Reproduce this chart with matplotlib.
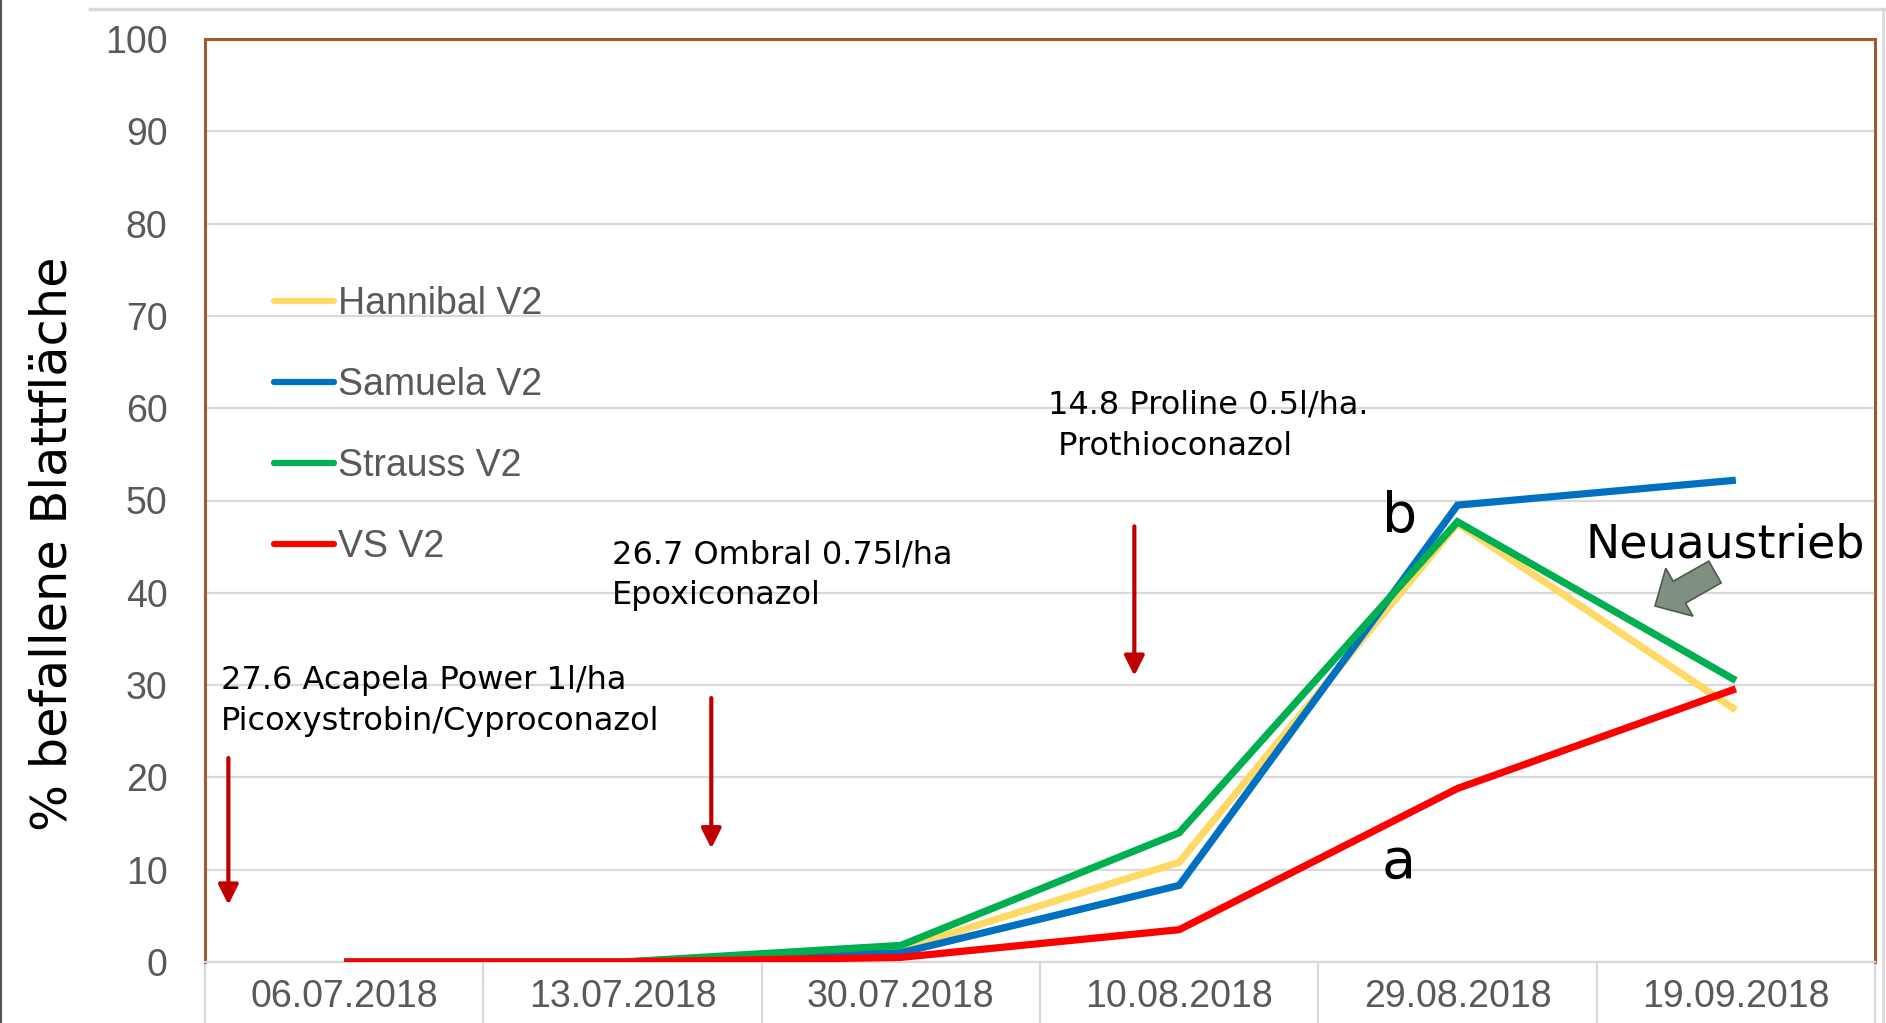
import numpy as np
import matplotlib
matplotlib.use('Agg')
import matplotlib.pyplot as plt
from matplotlib.lines import Line2D
from matplotlib.patches import FancyArrow
import matplotlib.transforms as mtransforms

# data
dates = ['06.07.2018', '13.07.2018', '30.07.2018', '10.08.2018', '29.08.2018', '19.09.2018']
hannibal = [0, 0, 1.4, 10.8, 47.5, 27.3]
samuela = [0, 0, 1.0, 8.3, 49.5, 52.2]
strauss = [0, 0, 1.8, 14.0, 47.7, 30.5]
vs = [0, 0, 0.5, 3.5, 18.8, 29.6]
series_names = ['Hannibal V2', 'Samuela V2', 'Strauss V2', 'VS V2']
series_colors = ['#ffd966', '#0070c0', '#00b050', '#ff0000']

W, H = 1886, 1023
fig = plt.figure(figsize=(W / 100, H / 100), dpi=100)
fig.patch.set_facecolor('white')

# plot area in pixels: left 205, right 1875, top 39, bottom 962
ax = fig.add_axes([205 / W, 1 - 962 / H, (1875 - 205) / W, (962 - 39) / H])

x = np.arange(len(dates))
grid_c = '#d9d9d9'
brown = '#a3592c'

for vals, name, col in zip([hannibal, samuela, strauss, vs], series_names, series_colors):
    ax.plot(x, vals, color=col, lw=5.2, label=name, solid_joinstyle='miter', solid_capstyle='butt', zorder=3)

ax.set_xlim(-0.5, len(dates) - 0.5)
ax.set_ylim(0, 100)
ax.set_yticks(np.arange(0, 101, 10))
ax.set_xticks(x)
ax.set_xticklabels(dates)
ax.grid(axis='y', color=grid_c, lw=1.6)
ax.set_axisbelow(True)
sans = ['Liberation Sans', 'DejaVu Sans']
tick_font = dict(family=sans, size=27, color='#595959')
for lab in ax.get_xticklabels() + ax.get_yticklabels():
    lab.set(**tick_font)
ax.tick_params(axis='both', length=0)
ax.tick_params(axis='x', pad=12)
ax.tick_params(axis='y', pad=27)

for s in ['left', 'top', 'right']:
    ax.spines[s].set_color(brown)
    ax.spines[s].set_linewidth(2.2)
ax.spines['bottom'].set_color(grid_c)
ax.spines['bottom'].set_linewidth(1.6)

# category separators below the axis
trans = mtransforms.blended_transform_factory(ax.transData, ax.transAxes)
for b in np.arange(-0.5, len(dates), 1.0):
    ax.plot([b, b], [0, -0.07], color=grid_c, lw=1.6, transform=trans, clip_on=False)

leg = ax.legend(loc='upper left', bbox_to_anchor=(274 / W, 1 - 286 / H), bbox_transform=fig.transFigure,
                frameon=False, borderpad=0, borderaxespad=0, handlelength=1.6, handletextpad=0.1,
                labelspacing=1.2, prop={'family': sans, 'size': 27})
for t in leg.get_texts():
    t.set_color('#595959')
for h in leg.get_lines():
    h.set_linewidth(4.5)
    h.set_solid_capstyle('round')

# treatment notes
note_font = dict(family=['DejaVu Sans'], size=23, color='black', linespacing=1.4)
ax.text(-0.443, 28.3, '27.6 Acapela Power 1l/ha\nPicoxystrobin/Cyproconazol', ha='left', va='center', **note_font)
ax.text(0.963, 41.9, '26.7 Ombral 0.75l/ha\nEpoxiconazol', ha='left', va='center', **note_font)
ax.text(2.530, 58.1, '14.8 Proline 0.5l/ha.\n Prothioconazol', ha='left', va='center', **note_font)

arrow_x = [-0.416, 1.319, 2.839]
arrow_top = [22.1, 28.6, 47.2]
arrow_bot = [6.2, 12.3, 31.0]
for ax_, yt, yb in zip(arrow_x, arrow_top, arrow_bot):
    ax.annotate('', xy=(ax_, yb), xytext=(ax_, yt),
                arrowprops=dict(arrowstyle='-|>,head_length=1.2,head_width=0.6', mutation_scale=10,
                                color='#c00000', lw=3, shrinkA=0, shrinkB=0))

ax.text(3.792, 48.2, 'b', ha='center', va='center', fontsize=40, family='DejaVu Sans')
ax.text(3.788, 10.8, 'a', ha='center', va='center', fontsize=40, family='DejaVu Sans')
ax.text(4.460, 45.2, 'Neuaustrieb', ha='left', va='center', fontsize=33, family='DejaVu Sans')

# block arrow pointing at the green/yellow decline
tail = (17.15, (H - 572) / 100)
tip = (16.55, (H - 606) / 100)
fig.patches.append(FancyArrow(tail[0], tail[1], tip[0] - tail[0], tip[1] - tail[1], width=0.25,
                              head_width=0.55, head_length=0.28, length_includes_head=True,
                              transform=fig.dpi_scale_trans, facecolor='#7f8f80', edgecolor='#4d5b4d', lw=1.2))

# y axis title
fig.text(53 / W, 1 - 544 / H, '% befallene Blattfläche', rotation=90, ha='center', va='center',
         fontsize=35.6, family='DejaVu Sans')

# chart-area outline remnants
fig.add_artist(Line2D([90 / W, 1], [1 - 9 / H, 1 - 9 / H], color=grid_c, lw=2.5, transform=fig.transFigure))
fig.add_artist(Line2D([1883 / W, 1883 / W], [0, 1 - 9 / H], color=grid_c, lw=2, transform=fig.transFigure))
fig.add_artist(Line2D([1 / W, 1 / W], [0, 1], color='#555555', lw=1.5, transform=fig.transFigure))

fig.savefig('out.png', dpi=100, facecolor='white')
